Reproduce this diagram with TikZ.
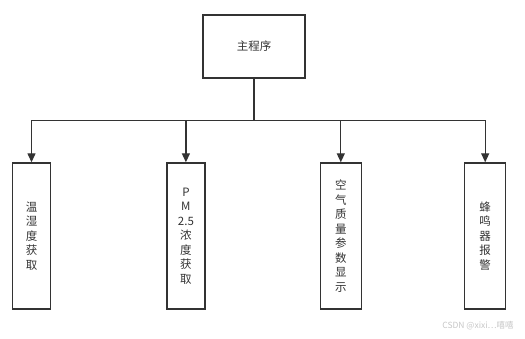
\documentclass[tikz,border=0pt]{standalone}
\usepackage{fontspec}
\setmainfont{Noto Sans CJK SC}
\usepackage{xcolor}
\usepackage{tikz}
\usetikzlibrary{positioning, arrows.meta}

\definecolor{linegray}{HTML}{333333}

\begin{document}
\begin{tikzpicture}[
        x=1pt, y=1pt,
        mainbox/.style={
            draw=linegray, line width=1.4pt,
            minimum width=102pt, minimum height=63pt,
            inner sep=0pt, text=linegray,
            font=\fontsize{11.5}{14}\selectfont
        },
        subbox/.style={
            draw=linegray, line width=1.4pt,
            minimum width=38pt, minimum height=146pt,
            inner sep=0pt, align=center, text=linegray,
            font=\fontsize{11.5}{14.5}\selectfont
        },
        link/.style={draw=linegray, line width=1.3pt},
        arrow/.style={link, -{Triangle[length=9pt, width=8pt]}}
    ]

        \useasboundingbox (0,0) rectangle (525,-338);

        \node[mainbox] (Main) at (254,-46.5) {主程序};

        \node[subbox] (Humid) at (31.5,-236) {温\\湿\\度\\获\\取};
        \node[subbox, right=115pt of Humid] (PM) {P\\M\\2.5\\浓\\度\\获\\取};
        \node[subbox, right=114pt of PM, minimum width=41pt] (Air) {空\\气\\质\\量\\参\\数\\显\\示};
        \node[subbox, right=102pt of Air, minimum width=41pt] (Buzzer) {蜂\\鸣\\器\\报\\警};

        \coordinate[below=42pt of Main] (Hub);

        \draw[link] (Main) -- (Hub);
        \draw[arrow] (Hub) -| (Humid);
        \draw[arrow] (Hub) -| (PM);
        \draw[arrow] (Hub) -| (Air);
        \draw[arrow] (Hub) -| (Buzzer);

        \node[text=gray!45, font=\fontsize{8.5}{10}\selectfont] (Mark) at (478,-326) {CSDN @xixi…嘻嘻};

    \end{tikzpicture}
\end{document}
